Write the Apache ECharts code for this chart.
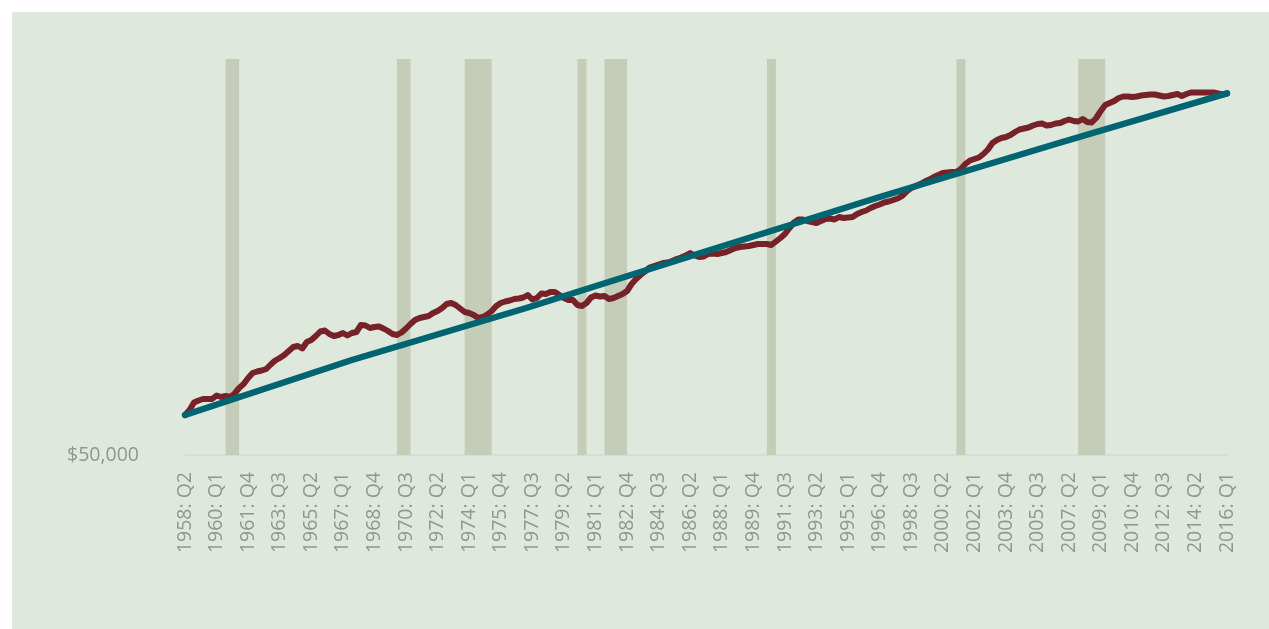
<!DOCTYPE html>
<html><head><meta charset="utf-8">
<script src="https://cdn.jsdelivr.net/npm/echarts@6/dist/echarts.min.js"></script>
<style>
html,body{margin:0;padding:0;background:#ffffff;width:1269px;height:629px;overflow:hidden}
#chart{position:absolute;left:12px;top:12px;width:1257px;height:617px}
</style>
</head><body><div id="chart"></div>
<script>
// Quarterly categories 1958: Q2 .. 2016: Q1
const startYear = 1958, startQuarter = 2, endYear = 2016, endQuarter = 1;
const categories = [];
for (let y = startYear; y <= endYear; y++) {
  for (let q = 1; q <= 4; q++) {
    if (y === startYear && q < startQuarter) continue;
    if (y === endYear && q > endQuarter) continue;
    categories.push(y + ': Q' + q);
  }
}

// Actual series (dark red), one value per quarter
const actualValues = [
  60000,61250,63125,63625,64000,64000,64000,64875,64500,64750,
  64500,65375,66750,67750,69250,70500,70875,71125,71500,72625,
  73625,74250,75000,76000,77000,77250,76625,78250,78750,79750,
  80875,81125,80250,79750,80000,80500,79875,80500,80750,82500,
  82375,81750,82000,82125,81625,81000,80250,80000,80625,81625,
  82750,83750,84250,84500,84750,85500,86000,86750,87750,88000,
  87500,86625,85750,85500,85000,84250,84500,85125,86000,87250,
  88000,88375,88625,89000,89125,89375,90000,88875,89250,90375,
  90250,90750,90750,90000,89250,88750,88750,87500,87250,88000,
  89375,89875,89625,89750,89000,89250,89750,90250,91000,92750,
  94000,95000,95875,96875,97250,97625,98000,98125,98500,99000,
  99375,99875,100500,99875,99500,99625,100250,100375,100250,100500,
  100750,101250,101750,102000,102125,102250,102500,102750,102750,102750,
  102500,103375,104250,105250,106750,108125,108875,108875,108500,108250,
  108000,108500,109000,109125,108875,109500,109250,109375,109500,110250,
  110750,111125,111750,112250,112625,113125,113375,113750,114125,114750,
  115875,116750,117250,117750,118375,118875,119500,120000,120500,120625,
  120750,120750,121500,122750,123625,124000,124375,125250,126375,128000,
  128750,129250,129500,130000,130750,131375,131625,131875,132375,132750,
  132875,132375,132500,132875,133000,133500,133875,133500,133375,134000,
  133250,133125,134250,136000,137500,138000,138500,139250,139625,139625,
  139500,139625,139875,140000,140125,140125,139875,139625,139750,140000,
  140250,139750,140250,140625,140625,140625,140625,140625,140625,140375,
  140125,140375
];

// Trend line (teal), read at anchor quarters
const trendLabels = ['1958: Q2','1967: Q3','1977: Q2','1987: Q1','1996: Q4','2006: Q3','2016: Q1'];
const trendValues = [60000, 73750, 86875, 100750, 114500, 127750, 140400];

// Recession shading: [first quarter, last quarter]
const recessions = [
  ['1960: Q3','1961: Q2'],
  ['1970: Q1','1970: Q4'],
  ['1973: Q4','1975: Q2'],
  ['1980: Q1','1980: Q3'],
  ['1981: Q3','1982: Q4'],
  ['1990: Q3','1991: Q1'],
  ['2001: Q1','2001: Q3'],
  ['2007: Q4','2009: Q2']
];

const yAxisMin = 50000, yAxisMax = 149000, yAxisInterval = 50000;
const labelColor = '#8d9a8a';

const chart = echarts.init(document.getElementById('chart'), null, {renderer: 'canvas'});
chart.setOption({
  animation: false,
  backgroundColor: '#dfe8dd',
  grid: {left: 173, right: 42, top: 47, bottom: 174, containLabel: false},
  xAxis: {
    type: 'category',
    data: categories,
    boundaryGap: false,
    axisLine: {show: true, lineStyle: {color: '#d9dbd7', width: 2}},
    axisTick: {show: false},
    splitLine: {show: false},
    axisLabel: {
      interval: 6, rotate: 90, margin: 17,
      color: labelColor, fontFamily: 'Open Sans', fontSize: 19.5,
      padding: [10, 0, 0, 0]
    }
  },
  yAxis: {
    type: 'value',
    min: yAxisMin, max: yAxisMax, interval: yAxisInterval,
    axisLine: {show: false},
    axisTick: {show: false},
    splitLine: {show: false},
    axisLabel: {
      margin: 46,
      color: labelColor, fontFamily: 'Open Sans', fontSize: 19.5,
      padding: [0, 0, 10, 0],
      formatter: function (v) { return Math.round(v) === yAxisMin ? '$50,000' : ''; }
    }
  },
  series: [
    {
      type: 'line', name: 'Recessions', data: [], z: 1, silent: true,
      markArea: {
        silent: true,
        itemStyle: {color: '#c5cdb9', opacity: 1},
        data: recessions.map(r => [{xAxis: r[0]}, {xAxis: r[1]}])
      }
    },
    {
      type: 'line', name: 'Actual', data: actualValues, z: 3,
      showSymbol: false, symbol: 'none',
      lineStyle: {color: '#772228', width: 6, join: 'round', cap: 'round'}
    },
    {
      type: 'line', name: 'Trend', z: 4,
      data: trendLabels.map((l, i) => [l, trendValues[i]]),
      showSymbol: false, symbol: 'none',
      lineStyle: {color: '#006570', width: 6.5, join: 'round', cap: 'round'}
    }
  ]
});
</script></body></html>
